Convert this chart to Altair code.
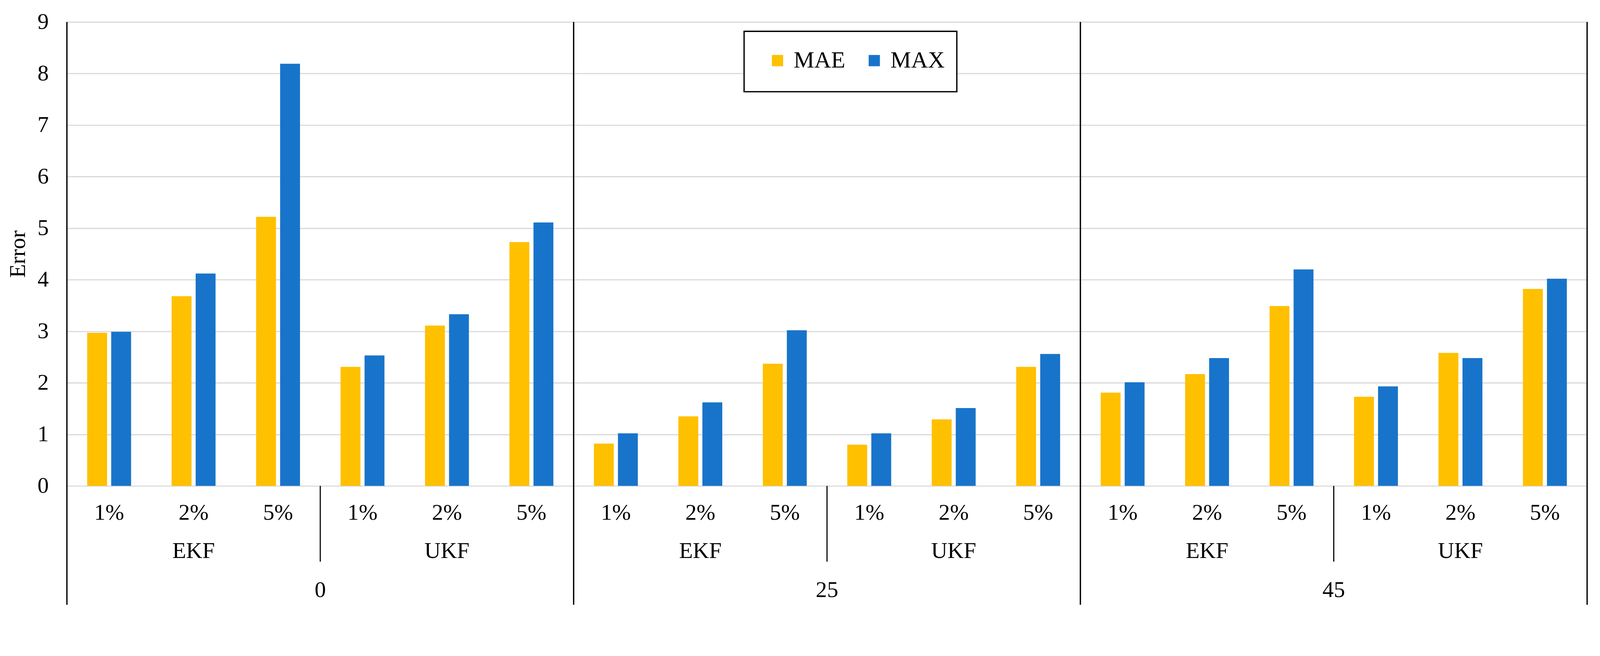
import altair as alt
import pandas as pd

# ---- data ----
angles = ["0", "25", "45"]
filters = ["EKF", "UKF"]
noises = ["1%", "2%", "5%"]
metrics = ["MAE", "MAX"]
mae_values = [2.97, 3.68, 5.22, 2.31, 3.11, 4.73,
              0.82, 1.35, 2.37, 0.80, 1.29, 2.31,
              1.81, 2.17, 3.49, 1.73, 2.58, 3.82]
max_values = [2.99, 4.12, 8.19, 2.53, 3.33, 5.11,
              1.02, 1.62, 3.02, 1.02, 1.51, 2.56,
              2.01, 2.48, 4.20, 1.93, 2.48, 4.02]
y_ticks = [0, 1, 2, 3, 4, 5, 6, 7, 8, 9]
colors = ["#FFC000", "#1874CA"]

FONT = "Liberation Serif"
FS = 60

rows, cat_rows, cats = [], [], []
i = 0
for a in angles:
    for f in filters:
        for n in noises:
            cat = f"{a}|{f}|{n}"
            cats.append(cat)
            cat_rows.append(dict(cat=cat, angle=a, filter=f, noise=n))
            rows.append(dict(cat=cat, metric="MAE", value=mae_values[i]))
            rows.append(dict(cat=cat, metric="MAX", value=max_values[i]))
            i += 1
bars_df = pd.DataFrame(rows)
cat_df = pd.DataFrame(cat_rows)

W, H = 4052, 1237
x_scale = alt.Scale(domain=cats, paddingInner=0, paddingOuter=0)


def X(**kw):
    return alt.X("cat:N", scale=x_scale, axis=None, **kw)


bars = alt.Chart(bars_df).mark_bar().encode(
    x=X(),
    xOffset=alt.XOffset("metric:N", scale=alt.Scale(domain=metrics, paddingInner=0.172, paddingOuter=0.844)),
    y=alt.Y("value:Q", scale=alt.Scale(domain=[0, 9], nice=False),
            axis=alt.Axis(values=y_ticks, title="Error", domain=False, ticks=False,
                          labelFontSize=FS, labelFont=FONT, labelColor="black", labelPadding=49,
                          gridColor="#d9d9d9", gridWidth=3,
                          titleFont=FONT, titleFontSize=FS, titleFontWeight="normal", titleColor="black",
                          titleX=-130, titleY=H / 2, titleAngle=270, titleBaseline="middle", titleAlign="center")),
    color=alt.Color("metric:N", scale=alt.Scale(domain=metrics, range=colors),
                    legend=alt.Legend(title=None, orient="none", direction="horizontal",
                                      legendX=1863, legendY=72, padding=0,
                                      symbolType="square", symbolSize=900, symbolStrokeWidth=0,
                                      labelFont=FONT, labelFontSize=FS + 2, labelColor="black",
                                      labelOffset=12, columnPadding=46)),
)

legend_box = alt.Chart(pd.DataFrame({"k": [0]})).mark_rect(
    fill="white", stroke="black", strokeWidth=3.5
).encode(x=alt.value(1805), x2=alt.value(2372), y=alt.value(25), y2=alt.value(186))

noise_text = alt.Chart(cat_df).mark_text(font=FONT, fontSize=FS, baseline="middle", color="black").encode(
    x=X(), y=alt.value(1309), text="noise:N")

filter_text = alt.Chart(cat_df).transform_filter(alt.datum.noise == "2%").mark_text(
    font=FONT, fontSize=FS, baseline="middle", color="black").encode(
    x=X(), y=alt.value(1411), text="filter:N")

angle_text = alt.Chart(cat_df).transform_filter(
    (alt.datum.filter == "UKF") & (alt.datum.noise == "1%")).mark_text(
    font=FONT, fontSize=FS, baseline="middle", color="black").encode(
    x=X(bandPosition=0), y=alt.value(1515), text="angle:N")

outer_rules = alt.Chart(cat_df).transform_filter(
    (alt.datum.filter == "EKF") & (alt.datum.noise == "1%")).mark_rule(
    color="black", strokeWidth=3.5).encode(
    x=X(bandPosition=0), y=alt.value(0), y2=alt.value(1554))

right_rule = alt.Chart(cat_df).transform_filter(
    (alt.datum.angle == "45") & (alt.datum.filter == "UKF") & (alt.datum.noise == "5%")).mark_rule(
    color="black", strokeWidth=3.5).encode(
    x=X(bandPosition=1), y=alt.value(0), y2=alt.value(1554))

inner_rules = alt.Chart(cat_df).transform_filter(
    (alt.datum.filter == "UKF") & (alt.datum.noise == "1%")).mark_rule(
    color="black", strokeWidth=3).encode(
    x=X(bandPosition=0), y=alt.value(H), y2=alt.value(1439))

chart = alt.layer(
    bars, legend_box, noise_text, filter_text, angle_text, outer_rules, right_rule, inner_rules
).properties(
    width=W, height=H,
    autosize=alt.AutoSizeParams(type="none"),
    padding={"left": 170, "top": 16, "right": 26, "bottom": 411},
).configure_view(
    stroke="black", strokeWidth=3.5
).configure(font=FONT)

chart.save("out.html", embed_options={"renderer": "svg", "actions": False})
